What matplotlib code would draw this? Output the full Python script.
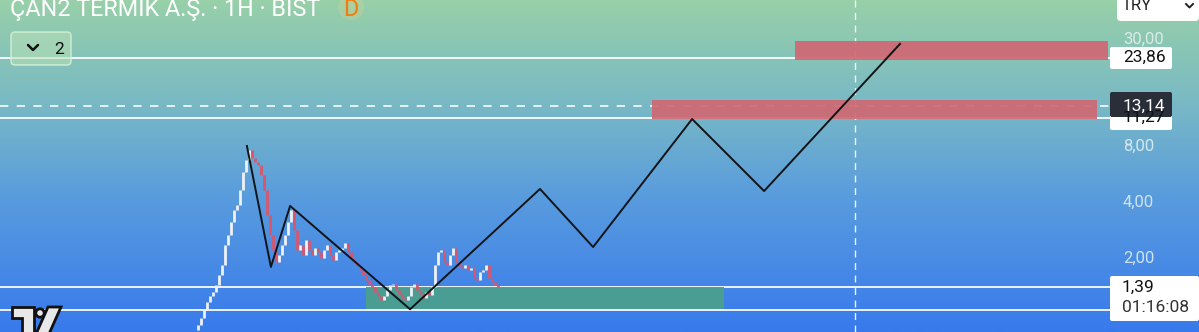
import matplotlib
matplotlib.use('Agg')
import matplotlib.pyplot as plt
import numpy as np
from matplotlib.patches import Rectangle, FancyBboxPatch, Polygon, Circle
from matplotlib.colors import LinearSegmentedColormap

# ---------------- data ----------------
closes = [0.82, 0.87, 0.95, 1.05, 1.16, 1.25, 1.31, 1.43, 1.62, 1.83,
          2.35, 2.66, 3.12, 3.62, 3.86, 4.64, 5.80, 6.73, 7.61, 6.90,
          6.60, 6.32, 5.59, 4.64, 3.40, 2.66, 2.21, 1.90, 2.08, 2.35,
          2.66, 3.12, 3.62, 2.83, 2.21, 2.35, 2.08, 2.50, 2.21, 2.08,
          2.26, 2.15, 2.00, 2.21, 2.35, 2.08, 1.95, 2.15, 2.21, 2.26,
          2.40, 2.15, 2.00, 1.90, 1.83, 1.72, 1.62, 1.52, 1.45, 1.39,
          1.31, 1.25, 1.19, 1.25, 1.35, 1.43, 1.45, 1.35, 1.28, 1.22,
          1.19, 1.25, 1.39, 1.45, 1.35, 1.28, 1.22, 1.31, 1.27, 1.39,
          1.83, 2.15, 2.21, 1.90, 1.83, 2.08, 2.26, 1.90, 1.81, 1.77,
          1.83, 1.72, 1.77, 1.56, 1.52, 1.68, 1.72, 1.83, 1.56, 1.49,
          1.43, 1.39]
opens = [closes[0]] + closes[:-1]

zigzag_bars = [17.3, 25.3, 31.7, 71.7, 115.0, 132.7, 165.7, 189.7, 235.0]
zigzag_prices = [8.0, 1.79, 3.81, 1.06, 4.70, 2.29, 11.17, 4.58, 28.3]

line_levels = [23.86, 11.27, 1.39, 1.05]
current_price = 13.14
vline_bar = 220.0

red_zones = [(200.0, 304.3, 23.2, 29.3), (152.3, 300.7, 11.17, 14.1)]
green_zone = (57.0, 176.3, 1.06, 1.39)

title = "ÇAN2 TERMİK A.Ş. · 1H · BIST"
axis_ticks = [30.0, 8.0, 4.0, 2.0]

# ---------------- figure ----------------
W, H = 1199, 332
fig = plt.figure(figsize=(W / 100, H / 100), dpi=100)
plt.rcParams['font.family'] = ['Roboto', 'DejaVu Sans']

# background gradient
bg = fig.add_axes([0, 0, 1, 1], zorder=0)
bg.axis('off')
cmap = LinearSegmentedColormap.from_list('bg', [
    (0.0, (152/255, 208/255, 168/255)),
    (0.3, (122/255, 186/255, 196/255)),
    (0.6, (88/255, 155/255, 222/255)),
    (1.0, (56/255, 122/255, 236/255))])
grad = np.linspace(0, 1, 256).reshape(-1, 1)
bg.imshow(grad, cmap=cmap, aspect='auto', extent=[0, 1, 1, 0])
bg.set_xlim(0, 1); bg.set_ylim(1, 0)

# main price axes
ax = fig.add_axes([0, 0, 1, 1], zorder=1)
ax.set_facecolor('none')
ax.set_yscale('log')
ax.set_ylim(0.8, 48.75)
ax.set_xlim(-65, 334.67)
ax.axis('off')

x_right = 305.0
# horizontal lines
for lv in line_levels:
    ax.plot([-65, x_right], [lv, lv], color='white', lw=1.4, alpha=0.9, zorder=2)
ax.plot([-65, x_right], [current_price, current_price], color='white', lw=1.2,
        dashes=(5, 5), alpha=0.95, zorder=2)
ax.plot([vline_bar, vline_bar], [0.8, 48.75], color='white', lw=1.0,
        dashes=(5, 4), alpha=0.9, zorder=2)

# zones
for x0, x1, p0, p1 in red_zones:
    ax.add_patch(Rectangle((x0, p0), x1 - x0, p1 - p0, facecolor='#d06872',
                           edgecolor='none', alpha=0.92, zorder=3))
gx0, gx1, gp0, gp1 = green_zone
ax.add_patch(Rectangle((gx0, gp0), gx1 - gx0, gp1 - gp0, facecolor='#4a9f8e',
                       edgecolor='none', alpha=0.95, zorder=3))

# candles
xs = np.arange(len(closes))
cols = ['#eef2f6' if c >= o else '#d9566c' for o, c in zip(opens, closes)]
lo = [min(o, c) for o, c in zip(opens, closes)]
hi = [max(o, c) for o, c in zip(opens, closes)]
ax.vlines(xs, lo, hi, colors=cols, lw=2.0, zorder=4)

# zigzag
ax.plot(zigzag_bars, zigzag_prices, color='#111418', lw=1.4, zorder=5)

# ---------------- overlay in pixel coords ----------------
ov = fig.add_axes([0, 0, 1, 1], zorder=2)
ov.set_facecolor('none')
ov.set_xlim(0, W); ov.set_ylim(H, 0)
ov.axis('off')

ov.text(10, 16, title, color='white', fontsize=16.8, va='baseline', ha='left')
ov.add_patch(Circle((351, 7), 13, facecolor='#f5d58a', alpha=0.22, edgecolor='none'))
ov.text(343, 16, 'D', color='#f07d10', fontsize=16.8, va='baseline', ha='left')

ov.add_patch(FancyBboxPatch((11, 32), 60, 33, boxstyle='round,pad=0,rounding_size=4',
                            facecolor=(0.72, 0.88, 0.72, 0.55), edgecolor=(0.85, 0.95, 0.85, 0.9), lw=1))
ov.plot([28, 33, 38], [45, 50, 45], color='#111', lw=1.8, solid_capstyle='round')
ov.text(54, 49, '2', color='#111', fontsize=12.5, va='center', ha='left')

# TV logo
ov.add_patch(Polygon([(12, 307), (34, 307), (34, 334), (22, 334), (22, 318), (12, 318)],
                     closed=True, facecolor='#e8e8e8', edgecolor='#111', lw=2))
ov.add_patch(Circle((40, 313), 4.2, facecolor='#e8e8e8', edgecolor='#111', lw=2))
ov.add_patch(Polygon([(36, 334), (48, 307), (61, 307), (49, 334)],
                     closed=True, facecolor='#e8e8e8', edgecolor='#111', lw=2))

# price scale labels
def ypix(p):
    return 146 - 56 * np.log2(p / 8.0)

for t in axis_ticks:
    ov.text(1123, ypix(t), f"{t:.2f}".replace('.', ','), color=(0.9, 0.95, 0.95, 0.85),
            fontsize=12, va='center', ha='left')

ov.add_patch(FancyBboxPatch((1117, -6), 82, 27, boxstyle='round,pad=0,rounding_size=4',
                            facecolor='white', edgecolor='none'))
ov.text(1122, 6, 'TRY', color='#222', fontsize=12, va='center', ha='left')
ov.plot([1186, 1189.5, 1193], [4, 7.5, 4], color='#222', lw=1.4)

def label_box(y0, y1, x1, fc):
    ov.add_patch(FancyBboxPatch((1110, y0), x1 - 1110, y1 - y0,
                                boxstyle='round,pad=0,rounding_size=2', facecolor=fc, edgecolor='none'))

label_box(47, 69, 1172, 'white')
ov.text(1123, ypix(23.86), '23,86', color='#111', fontsize=12.5, va='center', ha='left')
label_box(110, 130, 1172, 'white')
ov.text(1123, ypix(11.27) - 1, '11,27', color='#111', fontsize=12.5, va='center', ha='left')
label_box(92, 117, 1172, '#2a2e39')
ov.text(1123, ypix(current_price), '13,14', color='white', fontsize=12.5, va='center', ha='left')

label_box(276, 321, 1199, 'white')
ov.text(1122, 287, '1,39', color='#111', fontsize=12.5, va='center', ha='left')
ov.text(1122, 307, '01:16:08', color='#333', fontsize=12.5, va='center', ha='left')

fig.savefig('out.png', dpi=100)
